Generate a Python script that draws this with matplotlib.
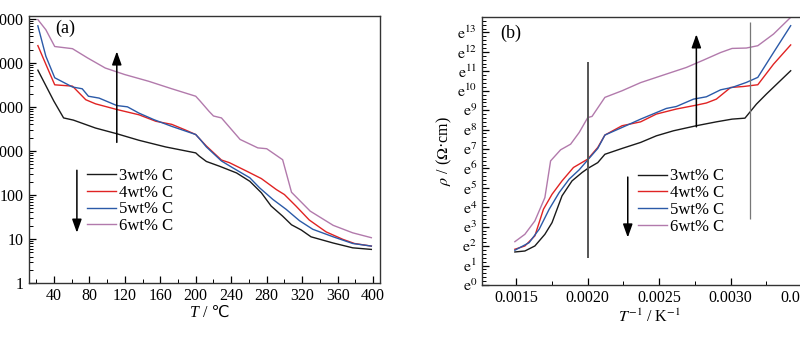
import matplotlib
matplotlib.use("Agg")
import matplotlib.pyplot as plt
from matplotlib.ticker import MultipleLocator, FixedLocator, FuncFormatter, LogLocator, NullFormatter

plt.rcParams['font.family'] = ['Liberation Serif', 'DejaVu Sans']
plt.rcParams['mathtext.fontset'] = 'stix'
plt.rcParams['font.size'] = 11.5

labels = ['3wt% C', '4wt% C', '5wt% C', '6wt% C']
colors = ['#1a1a1a', '#e02323', '#2b5aa8', '#b27aac']

# (a) resistivity vs temperature
T_3 = [22, 40, 51, 62, 87, 111, 136, 166, 200, 204, 212, 227, 246, 261, 274, 285,
       298, 308, 319, 330, 355, 377, 398]
rho_3 = [68000, 13500, 5600, 5000, 3300, 2450, 1740, 1230, 900, 760, 575, 447, 316,
         204, 112, 56, 33, 21, 16, 11.2, 8.1, 6.3, 5.8]
T_4 = [22, 32, 41, 61, 76, 87, 111, 136, 155, 173, 188, 200, 205, 212, 229, 238,
       257, 274, 291, 300, 313, 328, 347, 366, 379, 398]
rho_4 = [245000, 83000, 31600, 29500, 14500, 11700, 8700, 6600, 4700, 4000, 3000,
         2350, 1820, 1290, 620, 540, 350, 235, 132, 102, 56, 27, 14.5, 9.8, 7.9, 6.9]
T_5 = [22, 31, 41, 61, 72, 79, 91, 111, 123, 136, 153, 173, 200, 205, 212, 229,
       242, 261, 272, 287, 302, 317, 332, 355, 377, 398]
rho_5 = [690000, 141000, 45700, 28200, 25700, 17400, 15800, 10700, 10000, 7200,
         5100, 3600, 2350, 1820, 1230, 590, 410, 245, 145, 79, 47, 26, 16.6, 11.2,
         7.9, 6.9]
T_6 = [22, 31, 41, 61, 78, 98, 120, 147, 173, 200, 205, 215, 220, 229, 250, 270,
       280, 298, 308, 329, 355, 377, 398]
rho_6 = [955000, 562000, 234000, 209000, 129000, 76000, 54000, 38000, 25700, 17400,
         13500, 7900, 6200, 5600, 1820, 1170, 1120, 630, 115, 43, 20.4, 13.8, 10.7]

# (b) ln(rho) vs 1/T
invT_3 = [0.00149, 0.00156, 0.00163, 0.00170, 0.00175, 0.00182, 0.00189, 0.00196,
          0.00200, 0.00207, 0.00212, 0.00224, 0.00237, 0.00248, 0.00260, 0.00276,
          0.00290, 0.00301, 0.00310, 0.00318, 0.00325, 0.00342]
lnrho_3 = [1.70, 1.75, 2.01, 2.61, 3.21, 4.59, 5.36, 5.79, 6.00, 6.30, 6.73, 7.03,
           7.34, 7.68, 7.94, 8.20, 8.40, 8.54, 8.59, 9.31, 9.83, 11.03]
invT_4 = [0.00149, 0.00156, 0.00163, 0.00169, 0.00175, 0.00182, 0.00190, 0.00200,
          0.00207, 0.00212, 0.00224, 0.00237, 0.00248, 0.00262, 0.00276, 0.00283,
          0.00290, 0.00300, 0.00309, 0.00319, 0.00330, 0.00342]
lnrho_4 = [1.84, 2.01, 2.53, 3.90, 4.67, 5.36, 6.05, 6.48, 7.08, 7.72, 8.20, 8.40,
           8.80, 9.06, 9.26, 9.37, 9.57, 10.17, 10.22, 10.31, 11.37, 12.36]
invT_5 = [0.00149, 0.00159, 0.00166, 0.00173, 0.00180, 0.00187, 0.00194, 0.00200,
          0.00207, 0.00212, 0.00224, 0.00237, 0.00255, 0.00262, 0.00274, 0.00283,
          0.00293, 0.00301, 0.00311, 0.00319, 0.00330, 0.00342]
lnrho_5 = [1.79, 2.18, 2.87, 3.90, 4.76, 5.45, 5.93, 6.44, 7.03, 7.72, 8.11, 8.54,
           9.09, 9.19, 9.57, 9.69, 10.05, 10.17, 10.43, 10.69, 11.97, 13.35]
invT_6 = [0.00149, 0.00156, 0.00163, 0.00170, 0.00174, 0.00181, 0.00188, 0.00194,
          0.00200, 0.00203, 0.00212, 0.00224, 0.00237, 0.00255, 0.00269, 0.00281,
          0.00293, 0.00301, 0.00311, 0.00319, 0.00330, 0.00342]
lnrho_6 = [2.23, 2.61, 3.30, 4.50, 6.39, 6.96, 7.25, 7.85, 8.62, 8.68, 9.66, 10.00,
           10.42, 10.86, 11.20, 11.58, 11.97, 12.18, 12.20, 12.32, 12.92, 13.78]

# transition markers in (b): x, ln-bottom, ln-top
vline_x = [0.0020, 0.003137]
vline_lo = [1.41, 3.39]
vline_hi = [11.46, 13.52]

fig = plt.figure(figsize=(8, 3.49), dpi=100)
axa = fig.add_axes([0.03625, 0.189, 0.439, 0.765])
axb = fig.add_axes([0.6025, 0.1834, 0.418, 0.768])

for T, r, c, lab in zip([T_3, T_4, T_5, T_6], [rho_3, rho_4, rho_5, rho_6], colors, labels):
    axa.plot(T, r, color=c, lw=1.0, label=lab)
axa.set_yscale('log')
axa.set_xlim(12, 408)
axa.set_ylim(1, 1.15e6)
axa.xaxis.set_major_locator(MultipleLocator(40))
axa.xaxis.set_minor_locator(MultipleLocator(20))
axa.yaxis.set_major_locator(LogLocator(base=10, numticks=10))
axa.yaxis.set_major_formatter(FuncFormatter(lambda v, p: '%d' % round(v)))
axa.yaxis.set_minor_locator(LogLocator(base=10, subs=range(2, 10), numticks=20))
axa.yaxis.set_minor_formatter(NullFormatter())
# x label of (a): italic T, then the unit in a font that has the degree-Celsius sign
fig.text(0.249, 0.103, 'T', style='italic', ha='right', va='center', fontsize=11.5)
fig.text(0.249, 0.103, ' / ℃', ha='left', va='center', fontsize=11.5,
         family=['Liberation Serif', 'DejaVu Sans'])
axa.text(0.074, 0.955, '(a)', transform=axa.transAxes, fontsize=13, va='center')
axa.annotate('', xy=(111, 2.1e5), xytext=(111, 1350),
             arrowprops=dict(arrowstyle='-|>,head_width=0.25,head_length=0.7',
                             color='black', lw=1.1))
axa.annotate('', xy=(66, 12), xytext=(66, 420),
             arrowprops=dict(arrowstyle='-|>,head_width=0.25,head_length=0.7',
                             color='black', lw=1.1))
axa.legend(loc='upper left', bbox_to_anchor=(0.165, 0.432), frameon=False,
           fontsize=12, handlelength=1.75, handletextpad=0.2, labelspacing=0.05,
           borderpad=0, borderaxespad=0)

for x, r, c, lab in zip([invT_3, invT_4, invT_5, invT_6],
                        [lnrho_3, lnrho_4, lnrho_5, lnrho_6], colors, labels):
    axb.plot(x, r, color=c, lw=1.0, label=lab)
axb.vlines(vline_x, vline_lo, vline_hi, colors=['#555555', '#777777'], lw=[1.4, 0.9])
axb.set_xlim(0.00126, 0.0036)
axb.set_ylim(0, 13.8)
axb.xaxis.set_major_locator(FixedLocator([0.0015, 0.0020, 0.0025, 0.0030, 0.0035]))
axb.xaxis.set_major_formatter(FuncFormatter(lambda v, p: '%.4f' % v))
axb.xaxis.set_minor_locator(MultipleLocator(0.00025))
axb.yaxis.set_major_locator(MultipleLocator(1))
axb.yaxis.set_major_formatter(FuncFormatter(lambda v, p: r'$\mathrm{e}^{%d}$' % round(v)))
axb.yaxis.set_minor_locator(MultipleLocator(0.2))
axb.set_xlabel('$T^{-1}$ / K$^{-1}$', labelpad=2)
axb.set_ylabel(r'$\rho$ / ($\Omega$·cm)', labelpad=2)
axb.text(0.054, 0.94, '(b)', transform=axb.transAxes, fontsize=13, va='center')
axb.annotate('', xy=(0.00276, 13.05), xytext=(0.00276, 8.0),
             arrowprops=dict(arrowstyle='-|>,head_width=0.25,head_length=0.7',
                             color='black', lw=1.1))
axb.annotate('', xy=(0.00228, 2.3), xytext=(0.00228, 5.7),
             arrowprops=dict(arrowstyle='-|>,head_width=0.25,head_length=0.7',
                             color='black', lw=1.1))
axb.legend(loc='upper left', bbox_to_anchor=(0.466, 0.435), frameon=False,
           fontsize=12, handlelength=1.75, handletextpad=0.2, labelspacing=0.05,
           borderpad=0, borderaxespad=0)

for ax in (axa, axb):
    ax.tick_params(which='both', direction='in', top=False, right=False)
    ax.tick_params(which='major', length=5, width=0.9)
    ax.tick_params(which='minor', length=2.8, width=0.7)
    for s in ax.spines.values():
        s.set_linewidth(1.0)
        s.set_color('#333333')

fig.savefig('out.png', dpi=100)
